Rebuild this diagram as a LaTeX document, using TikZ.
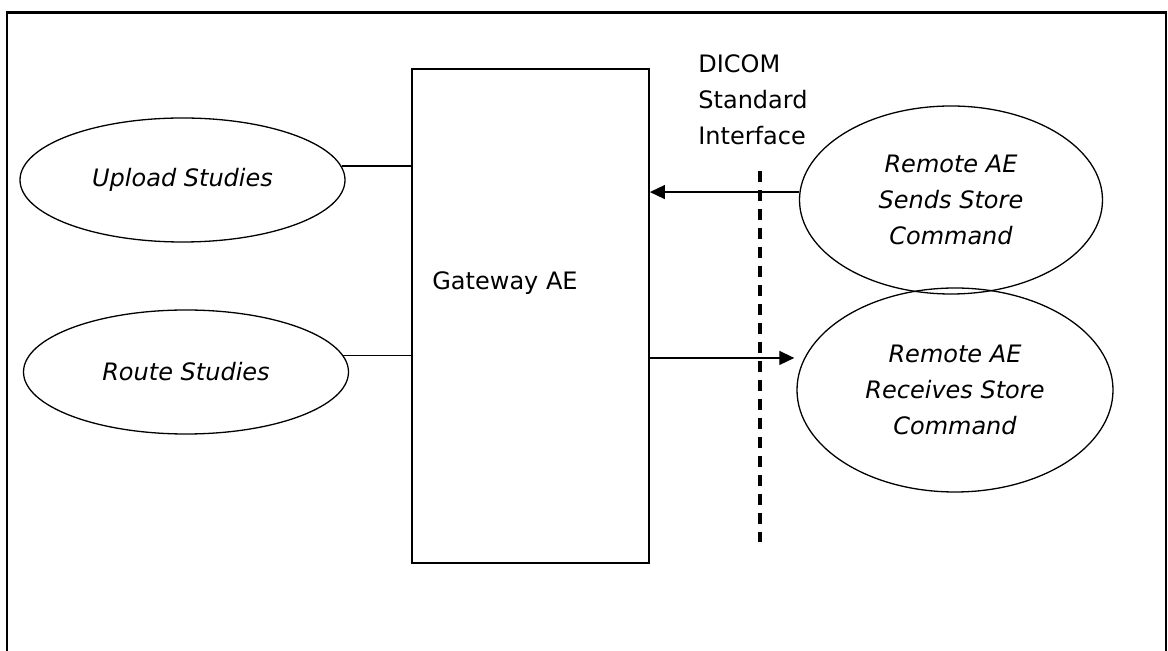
\documentclass[tikz,border=0pt]{standalone}
\usepackage{fontspec}
\setmainfont{DejaVu Sans}
\usetikzlibrary{shapes.geometric}
\usetikzlibrary{arrows.meta}
\tikzset{
  txt_base/.style = {align=center, inner sep=0pt,
    font=\fontsize{12}{18}\selectfont},
  txt_left/.style = {txt_base, align=left, anchor=west},% plain text, left aligned
  gw_box/.style = {rectangle, draw=black, line width=0.9pt,
    minimum width=118.5pt, minimum height=247pt},% gateway rectangle
  ae_ell/.style = {txt_base, ellipse, draw=black, line width=0.65pt,
    font=\fontsize{12}{18}\selectfont\itshape},% use case / remote AE
  ae_up/.style = {ae_ell, minimum width=162.5pt, minimum height=62pt},
  ae_rem/.style = {ae_ell, minimum width=151.5pt, minimum height=94pt},
  ae_remb/.style = {ae_ell, minimum width=158pt, minimum height=102pt},
  frame_ln/.style = {line width=1.1pt, line cap=rect},
  iface_ln/.style = {line width=1.7pt, dash pattern=on 5.5pt off 4pt},
  assoc/.style = {line width=0.7pt},
  msg/.style = {line width=0.7pt, -{Triangle[length=7.5pt,width=7pt]}},
}

\begin{document}
\begin{tikzpicture}[x=0.5pt,y=-0.5pt]
  \useasboundingbox (0,0) rectangle (1168,651);
%   outer frame, open at the bottom
  \draw[frame_ln] (7,651) -- (7,12.5) -- (1166,12.5) -- (1166,651);

  \node[gw_box] (gw) at (530.5,316) {};
  \node[txt_base] (gwtext) at (505,283) {Gateway AE};

  \node[ae_up] (upload) at (182.5,180) {Upload Studies};
  \node[ae_up] (route) at (186,372) {Route Studies};
  \node[ae_rem] (sends) at (951,200) {Remote AE\\Sends Store\\Command};
  \node[ae_remb] (recv) at (955,390) {Remote AE\\Receives Store\\Command};

%   interface
  \node[txt_left] (iface) at (698,100) {DICOM\\Standard\\Interface};
  \coordinate (ifacetop) at (760,171);
  \coordinate (ifacebot) at (760,542);
  \draw[iface_ln] (ifacetop) -- (ifacebot);

%   local use cases
  \draw[assoc] (upload.5) -- (upload.5 -| gw.west);
  \draw[assoc] (route.6) -- (route.6 -| gw.west);
%   remote side
  \draw[msg] (sends.177) -- (sends.177 -| gw.east);
  \draw[msg, shorten >=5pt] (recv.168 -| gw.east) -- (recv.168);
\end{tikzpicture}
\end{document}
